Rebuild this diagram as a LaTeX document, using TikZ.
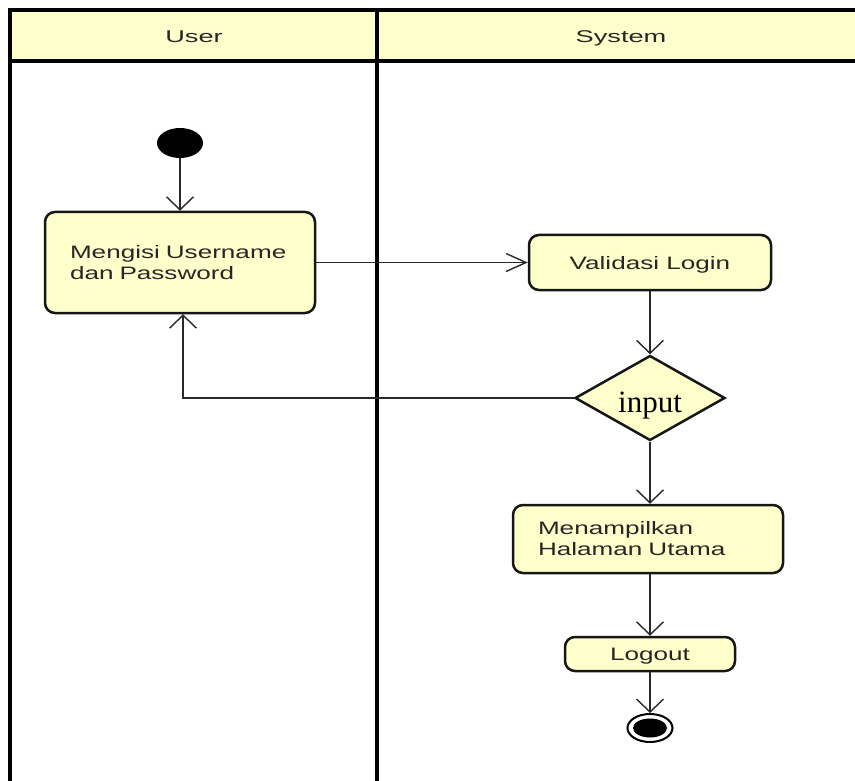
\documentclass[tikz,border=0pt]{standalone}
\usepackage{fontspec}
\setmainfont{Liberation Sans}
\newfontfamily\actfont[FakeStretch=1.45]{Liberation Sans}
\newfontfamily\lanefont[FakeStretch=1.6]{Liberation Sans}
\newfontfamily\guardfont{Liberation Serif}
\usetikzlibrary{shapes.geometric,arrows.meta}
\definecolor{umlfill}{RGB}{255,255,204}
\definecolor{umlline}{RGB}{22,22,22}
\definecolor{flowline}{RGB}{40,40,40}

\begin{document}
\begin{tikzpicture}[x=1pt,y=-1pt,
  lane/.style={line width=3.5pt, draw=black},
  lanetitle/.style={font=\lanefont\fontsize{17}{20}\selectfont, text=black!85, inner sep=0pt, anchor=base},
  act/.style={draw=umlline, line width=2.5pt, fill=umlfill, rounded corners=10pt,
    font=\actfont\fontsize{18}{21}\selectfont, text=black!85, inner sep=0pt},
  oneline/.style={align=center, text height=15pt, text depth=1.5pt},
  guard/.style={diamond, draw=umlline, line width=2.5pt, fill=umlfill, inner sep=0pt,
    shape aspect=1.76, minimum width=150pt, minimum height=85pt,
    text height=28pt, text depth=0pt,
    font=\guardfont\fontsize{31}{34}\selectfont},
  flow/.style={draw=flowline, line width=1.4pt,
    -{Straight Barb[length=13pt,width=27pt,line width=1.4pt]}},
  flowh/.style={draw=flowline, line width=1.4pt,
    -{Straight Barb[length=20pt,width=18pt,line width=1.4pt]}},
  startnode/.style={ellipse, fill=black, minimum width=46pt, minimum height=30pt, inner sep=0pt},
  endring/.style={ellipse, draw=black, line width=2pt, fill=white, minimum width=45pt, minimum height=28pt, inner sep=0pt},
  enddot/.style={ellipse, fill=black, minimum width=34pt, minimum height=19pt, inner sep=0pt}
]
\useasboundingbox (0,0) rectangle (855,781);

% swimlane header band
\fill[umlfill] (10,10) rectangle (855,61);
\draw[lane] (10,10) -- (855,10);
\draw[lane] (10,61) -- (855,61);
\draw[lane] (10,8.25) -- (10,781);
\draw[lane] (377,10) -- (377,781);
\node[lanetitle] (userHead) at (194,43) {User};
\node[lanetitle] (systemHead) at (621,43) {System};

% activity nodes
\node[startnode] (start) at (180,143) {};
\node[act, minimum width=270pt, minimum height=101pt, text width=220pt, align=left]
  (fill) at (180,262.5) {Mengisi Username\\dan Password};
\node[act, oneline, minimum width=242pt, minimum height=55pt]
  (valid) at (650,262.5) {Validasi Login};
\node[guard] (check) at (650,398) {input};
\node[act, minimum width=270pt, minimum height=68pt, text width=220pt, align=left]
  (main) at (648,539) {Menampilkan\\Halaman Utama};
\node[act, oneline, minimum width=170pt, minimum height=34pt]
  (logout) at (650,654) {Logout};
\node[endring] (finish) at (650,728) {};
\node[enddot] (finishDot) at (finish.center) {};

% control flows
\draw[flow] (start) -- (fill);
\draw[flowh] (fill.east) -- (valid.west);
\draw[flow] (valid) -- (check);
\draw[flow] (check.west) -| ([xshift=3pt]fill.south);
\draw[flow] (check.south) -- (check.south |- main.north);
\draw[flow] (check.south |- main.south) -- (check.south |- logout.north);
\draw[flow] (logout) -- (finish);
\end{tikzpicture}
\end{document}
